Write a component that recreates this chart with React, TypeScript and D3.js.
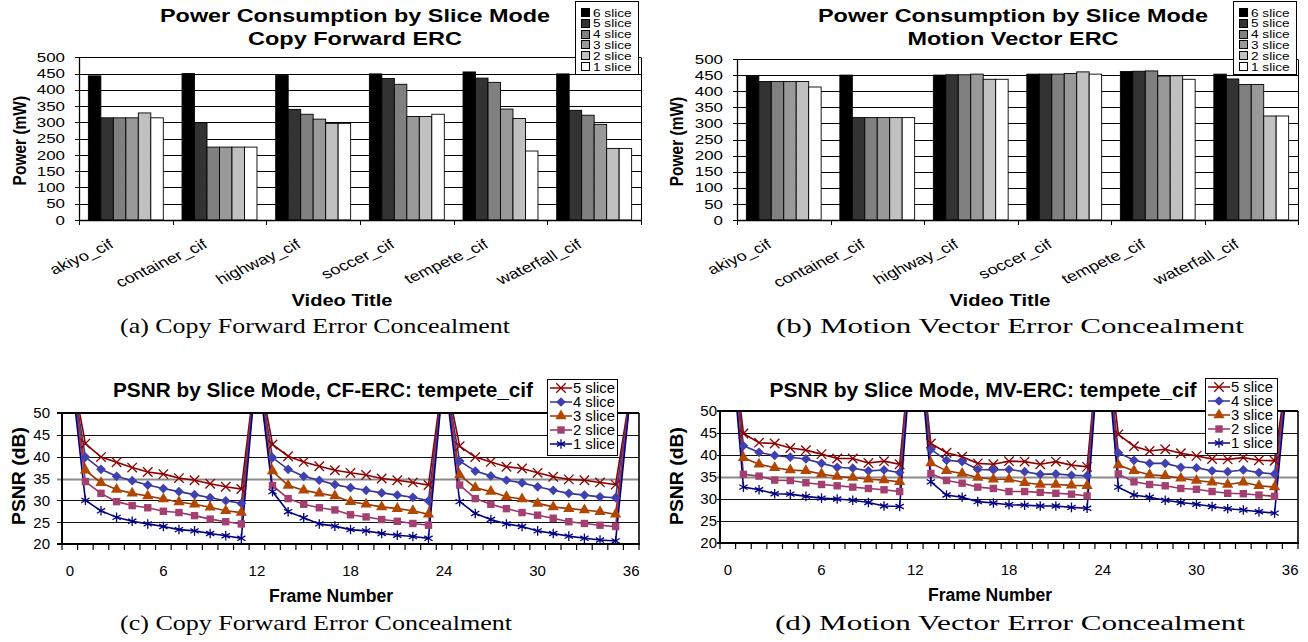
import React from 'react';
import * as d3 from 'd3';

const SANS = "'Liberation Sans', Arial, Helvetica, sans-serif";
const SERIF = "'Liberation Serif', 'Times New Roman', serif";

// ---- power consumption (mW) by video and slice mode ----
const videoTitles = ['akiyo_cif', 'container_cif', 'highway_cif', 'soccer_cif', 'tempete_cif', 'waterfall_cif'];
const barModes = ['6 slice', '5 slice', '4 slice', '3 slice', '2 slice', '1 slice'];
const barFills = ['#000000', '#333333', '#808080', '#999999', '#c0c0c0', '#ffffff'];
const powerTicks = [0, 50, 100, 150, 200, 250, 300, 350, 400, 450, 500];

// copy forward ERC
const cfPower6 = [443, 450, 445, 449, 455, 449];
const cfPower5 = [314, 299, 340, 435, 436, 337];
const cfPower4 = [314, 224, 325, 417, 423, 322];
const cfPower3 = [314, 224, 310, 318, 341, 294];
const cfPower2 = [329, 224, 297, 318, 312, 220];
const cfPower1 = [314, 224, 297, 325, 212, 220];

// motion vector ERC
const mvPower6 = [446, 450, 450, 453, 461, 453];
const mvPower5 = [430, 318, 451, 453, 462, 438];
const mvPower4 = [430, 318, 451, 453, 463, 421];
const mvPower3 = [430, 318, 453, 455, 447, 421];
const mvPower2 = [430, 318, 437, 460, 448, 323];
const mvPower1 = [413, 318, 437, 453, 437, 323];

// ---- PSNR (dB) per frame, tempete_cif ----
const frameNumbers = d3.range(37);
const frameTicks = [0, 6, 12, 18, 24, 30, 36];
const psnrTicks = [20, 25, 30, 35, 40, 45, 50];
const lineModes = ['5 slice', '4 slice', '3 slice', '2 slice', '1 slice'];
const lineColors = ['#8b0000', '#333399', '#993300', '#993366', '#000080'];
const markerFills = ['#8b0000', '#4040b0', '#b34700', '#a3406f', '#000080'];

const cfPsnr5 = [62, 43.0, 39.9, 38.7, 37.5, 36.5, 36.0, 35.1, 34.6, 33.8, 33.1, 32.6, 62, 42.8, 40.1, 38.8, 37.8, 36.9, 36.3, 35.8, 35.0, 34.6, 34.1, 33.5, 60, 42.4, 39.9, 38.8, 37.7, 37.3, 36.3, 35.4, 34.8, 34.6, 34.1, 33.6, 56];
const cfPsnr4 = [62, 39.9, 37.1, 35.5, 34.5, 33.5, 32.7, 32.0, 31.3, 30.6, 29.9, 29.3, 62, 39.8, 37.1, 35.5, 34.6, 33.6, 32.9, 32.3, 31.7, 31.2, 30.7, 29.9, 60, 39.0, 36.7, 35.6, 34.6, 34.0, 33.1, 32.3, 31.6, 31.2, 30.8, 30.6, 56];
const cfPsnr3 = [62, 36.9, 34.0, 32.5, 31.6, 31.0, 30.3, 29.6, 29.1, 28.4, 27.6, 27.2, 62, 36.7, 33.4, 32.3, 31.6, 31.0, 29.7, 29.1, 28.5, 28.1, 27.6, 26.8, 60, 35.8, 32.9, 32.0, 30.8, 30.3, 29.3, 28.5, 28.1, 27.8, 27.4, 26.8, 56];
const cfPsnr2 = [62, 34.3, 31.6, 29.7, 28.8, 28.3, 27.5, 27.2, 26.5, 25.7, 25.1, 24.6, 62, 33.4, 30.4, 29.1, 28.3, 27.8, 26.7, 26.2, 25.6, 25.2, 24.7, 24.3, 60, 33.5, 30.4, 29.1, 28.1, 27.2, 26.6, 25.9, 25.1, 24.7, 24.3, 24.0, 56];
const cfPsnr1 = [62, 30.0, 27.6, 26.1, 25.2, 24.6, 24.0, 23.3, 23.0, 22.4, 21.9, 21.3, 62, 32.0, 27.4, 26.0, 24.6, 24.1, 23.3, 23.0, 22.4, 22.0, 21.7, 21.3, 60, 29.7, 27.0, 25.6, 24.6, 24.0, 23.0, 22.4, 21.8, 21.3, 20.9, 20.7, 56];

const mvPsnr5 = [75, 44.9, 42.8, 42.6, 41.6, 41.1, 40.2, 39.2, 39.2, 38.2, 38.6, 37.9, 75, 42.6, 40.5, 39.6, 38.1, 37.9, 38.6, 38.5, 37.9, 38.5, 37.7, 37.3, 75, 44.7, 42.0, 40.9, 41.3, 40.4, 39.8, 39.1, 39.0, 39.4, 38.8, 38.7, 64];
const mvPsnr4 = [75, 42.1, 40.6, 39.9, 39.5, 39.1, 38.1, 37.2, 37.0, 36.4, 36.6, 36.0, 75, 41.3, 38.8, 38.5, 36.7, 36.6, 36.7, 36.2, 35.6, 35.7, 35.4, 35.3, 75, 40.5, 38.8, 38.1, 38.1, 37.2, 37.1, 36.4, 36.2, 36.6, 36.0, 35.7, 64];
const mvPsnr3 = [75, 39.4, 37.9, 37.1, 36.6, 36.4, 35.7, 35.1, 34.9, 34.5, 34.3, 33.9, 75, 38.2, 36.4, 35.8, 34.9, 34.5, 34.5, 33.7, 33.3, 33.3, 33.1, 33.0, 75, 37.7, 36.4, 35.5, 35.3, 34.7, 34.2, 33.8, 33.3, 33.8, 33.0, 32.7, 64];
const mvPsnr2 = [75, 35.6, 35.2, 34.3, 34.2, 33.7, 33.3, 33.0, 32.7, 32.4, 32.1, 31.7, 75, 35.8, 34.2, 33.6, 32.7, 32.4, 31.7, 31.7, 31.5, 31.3, 31.1, 30.7, 75, 35.7, 33.9, 33.3, 33.0, 32.4, 32.2, 31.7, 31.3, 31.2, 30.9, 30.6, 64];
const mvPsnr1 = [75, 32.7, 32.1, 31.2, 31.1, 30.6, 30.2, 30.0, 29.7, 29.2, 28.4, 28.3, 75, 33.9, 30.9, 30.4, 29.4, 29.1, 28.7, 28.6, 28.4, 28.4, 28.1, 27.9, 75, 32.7, 30.9, 30.4, 29.7, 29.2, 28.8, 28.3, 27.8, 27.5, 27.1, 26.8, 64];

const d3any = d3 as any;
const markerTypes = [
  d3any.symbolTimes || d3.symbolCross,
  d3any.symbolDiamond2 || d3.symbolDiamond,
  d3.symbolTriangle,
  d3.symbolSquare,
  d3any.symbolAsterisk || d3.symbolCross,
];
const markerSizes = [60, 60, 55, 55, 64];
const strokeMarker = [true, false, false, false, true];

const px = (v: number) => Math.round(v) + 0.5;

function Caption({ text, cx, y, w }: { text: string; cx: number; y: number; w: number }) {
  return (
    <text x={cx - w / 2} y={y} fontFamily={SERIF} fontSize={22} textLength={w} lengthAdjust="spacingAndGlyphs">
      {text}
    </text>
  );
}

function BarChart(p: any) {
  const { series, left, right, top, bottom } = p;
  const x = d3.scaleBand<string>().domain(videoTitles).range([left, right]);
  const bw = x.bandwidth();
  const xi = d3.scaleBand<string>().domain(barModes).range([bw * 0.1, bw * 0.9]);
  const y = d3.scaleLinear().domain([0, 500]).range([bottom, top]);
  const SX = 1.3;
  const lx = p.legendX;
  return (
    <g fontFamily={SANS}>
      {powerTicks.slice(1).map((t) => (
        <line key={t} x1={left} x2={right} y1={px(y(t))} y2={px(y(t))} stroke="#000" />
      ))}
      <line x1={px(right)} x2={px(right)} y1={px(top)} y2={bottom} stroke="#000" />
      {series.map((vals: number[], si: number) =>
        vals.map((v, vi) => (
          <rect
            key={`${si}-${vi}`}
            x={(x(videoTitles[vi]) as number) + (xi(barModes[si]) as number)}
            y={y(v)}
            width={xi.bandwidth()}
            height={y(0) - y(v)}
            fill={barFills[si]}
            stroke="#000"
            strokeWidth={0.9}
          />
        ))
      )}
      <line x1={px(left)} x2={px(left)} y1={px(top)} y2={px(bottom)} stroke="#000" strokeWidth={1.3} />
      <line x1={left} x2={right} y1={px(bottom)} y2={px(bottom)} stroke="#000" strokeWidth={1.3} />
      {powerTicks.map((t) => (
        <g key={t}>
          <line x1={left - 4} x2={left} y1={px(y(t))} y2={px(y(t))} stroke="#000" />
          <text transform={`translate(${left - 14},${y(t) + 4.6}) scale(${SX},1)`} textAnchor="end" fontSize={13}>
            {t}
          </text>
        </g>
      ))}
      {[...videoTitles.map((v) => x(v) as number), right].map((b, i) => (
        <line key={i} x1={px(b)} x2={px(b)} y1={bottom} y2={bottom + 5} stroke="#000" />
      ))}
      {videoTitles.map((v) => (
        <text
          key={v}
          transform={`translate(${(x(v) as number) + bw / 2 - 11},${bottom + 27}) scale(${SX},1) rotate(-31)`}
          textAnchor="end"
          fontSize={14}
        >
          {v}
        </text>
      ))}
      <text
        transform={`translate(${p.yLabelX},${(top + bottom) / 2 + 2}) scale(1.2,1) rotate(-90)`}
        textAnchor="middle"
        dy="0.35em"
        fontSize={15.5}
        fontWeight="bold"
      >
        Power (mW)
      </text>
      <text x={p.xTitleX - 50.5} y={bottom + 86} fontSize={16.5} fontWeight="bold" textLength={101} lengthAdjust="spacingAndGlyphs">
        Video Title
      </text>
      {p.titleLines.map((t: string, i: number) => (
        <text
          key={t}
          x={p.titleX - p.titleWidths[i] / 2}
          y={22 + i * 23}
          fontSize={17.5}
          fontWeight="bold"
          textLength={p.titleWidths[i]}
          lengthAdjust="spacingAndGlyphs"
        >
          {t}
        </text>
      ))}
      <rect x={px(lx)} y={px(1)} width={63} height={73} fill="#fff" stroke="#000" />
      {barModes.map((m, i) => {
        const cy = 12.5 + i * 10.8;
        return (
          <g key={m}>
            <rect x={px(lx + 6)} y={px(cy - 4.5)} width={8} height={8} fill={barFills[i]} stroke="#000" />
            <text transform={`translate(${lx + 18},${cy + 4}) scale(${SX},1)`} fontSize={10.5}>
              {m}
            </text>
          </g>
        );
      })}
      <Caption text={p.caption} cx={p.captionX} y={333} w={p.captionW} />
    </g>
  );
}

function LineChart(p: any) {
  const { series, left, right, top, bottom, id } = p;
  const x = d3.scaleBand<number>().domain(frameNumbers).range([left, right]);
  const cx = (i: number) => (x(i) as number) + x.bandwidth() / 2;
  const y = d3.scaleLinear().domain([20, 50]).range([bottom, top]);
  const line = d3
    .line<number>()
    .x((_, i) => cx(i))
    .y((d) => y(d));
  const lg = p.legend;
  return (
    <g fontFamily={SANS}>
      <defs>
        <clipPath id={id}>
          <rect x={left} y={top} width={right - left} height={bottom - top} />
        </clipPath>
      </defs>
      {psnrTicks.slice(1, -1).map((t) => (
        <line
          key={t}
          x1={left - p.yTick}
          x2={right}
          y1={px(y(t))}
          y2={px(y(t))}
          stroke={t === 35 ? '#8a8a8a' : '#111'}
          strokeWidth={t === 35 ? 2 : 1.2}
        />
      ))}
      <g clipPath={`url(#${id})`}>
        {series.map((vals: number[], si: number) => (
          <path key={si} d={line(vals) as string} fill="none" stroke={lineColors[si]} strokeWidth={1.6} />
        ))}
        {series.map((vals: number[], si: number) => {
          const sym = d3.symbol().type(markerTypes[si]).size(markerSizes[si])() as string;
          return vals.map((v, i) => (
            <path
              key={`${si}-${i}`}
              d={sym}
              transform={`translate(${cx(i)},${y(v)})`}
              fill={strokeMarker[si] ? 'none' : markerFills[si]}
              stroke={strokeMarker[si] ? markerFills[si] : 'none'}
              strokeWidth={1.3}
            />
          ));
        })}
      </g>
      <line x1={left - p.yTick} x2={right} y1={top} y2={top} stroke="#000" strokeWidth={2} />
      <line x1={right} x2={right} y1={top} y2={bottom} stroke="#000" strokeWidth={1.6} />
      <line x1={left} x2={left} y1={top} y2={bottom} stroke="#000" strokeWidth={2} />
      <line x1={left - p.yTick} x2={right + 1} y1={bottom} y2={bottom} stroke="#000" strokeWidth={2} />
      {[...frameNumbers.map((f) => x(f) as number), right].map((b, i) => (
        <line key={i} x1={b} x2={b} y1={bottom} y2={bottom + 6} stroke="#000" strokeWidth={1.2} />
      ))}
      {psnrTicks.map((t) => (
        <text key={t} x={p.tickEnd} y={y(t)} dy="0.36em" textAnchor="end" fontSize={15}>
          {t}
        </text>
      ))}
      {frameTicks.map((f) => (
        <text key={f} x={cx(f)} y={bottom + 32} textAnchor="middle" fontSize={15}>
          {f}
        </text>
      ))}
      <text
        transform={`translate(${p.yLabelX},${p.yLabelY}) rotate(-90)`}
        textAnchor="middle"
        dy="0.36em"
        fontSize={18.5}
        fontWeight="bold"
        textLength={98}
        lengthAdjust="spacingAndGlyphs"
      >
        PSNR (dB)
      </text>
      <text x={p.xTitleX - 62} y={bottom + 58} fontSize={17.5} fontWeight="bold" textLength={124} lengthAdjust="spacingAndGlyphs">
        Frame Number
      </text>
      <text x={p.titleX - p.titleW / 2} y={397} fontSize={20} fontWeight="bold" textLength={p.titleW} lengthAdjust="spacingAndGlyphs">
        {p.title}
      </text>
      <rect x={px(lg.x)} y={px(lg.y)} width={lg.w} height={lg.h} fill="#fff" stroke="#000" />
      {lineModes.map((m, i) => {
        const cy = lg.y + 9 + i * 14;
        const sym = d3.symbol().type(markerTypes[i]).size(markerSizes[i])() as string;
        return (
          <g key={m}>
            <line x1={lg.x + 3} x2={lg.x + 25} y1={cy} y2={cy} stroke={lineColors[i]} strokeWidth={1.5} />
            <path
              d={sym}
              transform={`translate(${lg.x + 14},${cy})`}
              fill={strokeMarker[i] ? 'none' : markerFills[i]}
              stroke={strokeMarker[i] ? markerFills[i] : 'none'}
              strokeWidth={1.3}
            />
            <text x={lg.x + 26} y={cy + 5} fontSize={14} textLength={42} lengthAdjust="spacingAndGlyphs">
              {m}
            </text>
          </g>
        );
      })}
      <Caption text={p.caption} cx={p.captionX} y={630} w={p.captionW} />
    </g>
  );
}

export default function App() {
  return (
    <svg width={1308} height={642} style={{ position: 'absolute', left: 0, top: 0, background: '#fff' }}>
      <rect width={1308} height={642} fill="#fff" />
      <BarChart
        series={[cfPower6, cfPower5, cfPower4, cfPower3, cfPower2, cfPower1]}
        left={79}
        right={641}
        top={57.3}
        bottom={220}
        titleLines={['Power Consumption by Slice Mode', 'Copy Forward ERC']}
        titleWidths={[390, 214]}
        titleX={355}
        legendX={575}
        yLabelX={19}
        xTitleX={342}
        caption="(a) Copy Forward Error Concealment"
        captionX={315}
        captionW={390}
      />
      <BarChart
        series={[mvPower6, mvPower5, mvPower4, mvPower3, mvPower2, mvPower1]}
        left={737}
        right={1298}
        top={59}
        bottom={220}
        titleLines={['Power Consumption by Slice Mode', 'Motion Vector ERC']}
        titleWidths={[390, 211]}
        titleX={1013}
        legendX={1233}
        yLabelX={676}
        xTitleX={1000}
        caption="(b) Motion Vector Error Concealment"
        captionX={1010}
        captionW={468}
      />
      <LineChart
        id="clip-cf"
        series={[cfPsnr5, cfPsnr4, cfPsnr3, cfPsnr2, cfPsnr1]}
        left={62}
        right={639}
        top={413}
        bottom={544}
        yTick={5}
        tickEnd={50}
        yLabelX={18}
        yLabelY={476}
        xTitleX={331}
        title="PSNR by Slice Mode, CF-ERC: tempete_cif"
        titleX={323}
        titleW={420}
        legend={{ x: 547, y: 379, w: 70, h: 76 }}
        caption="(c) Copy Forward Error Concealment"
        captionX={316}
        captionW={392}
      />
      <LineChart
        id="clip-mv"
        series={[mvPsnr5, mvPsnr4, mvPsnr3, mvPsnr2, mvPsnr1]}
        left={720}
        right={1298}
        top={411}
        bottom={543}
        yTick={3}
        tickEnd={717}
        yLabelX={676}
        yLabelY={476}
        xTitleX={990}
        title="PSNR by Slice Mode, MV-ERC: tempete_cif"
        titleX={983}
        titleW={427}
        legend={{ x: 1205, y: 378, w: 72, h: 75 }}
        caption="(d) Motion Vector Error Concealment"
        captionX={1010}
        captionW={470}
      />
    </svg>
  );
}
